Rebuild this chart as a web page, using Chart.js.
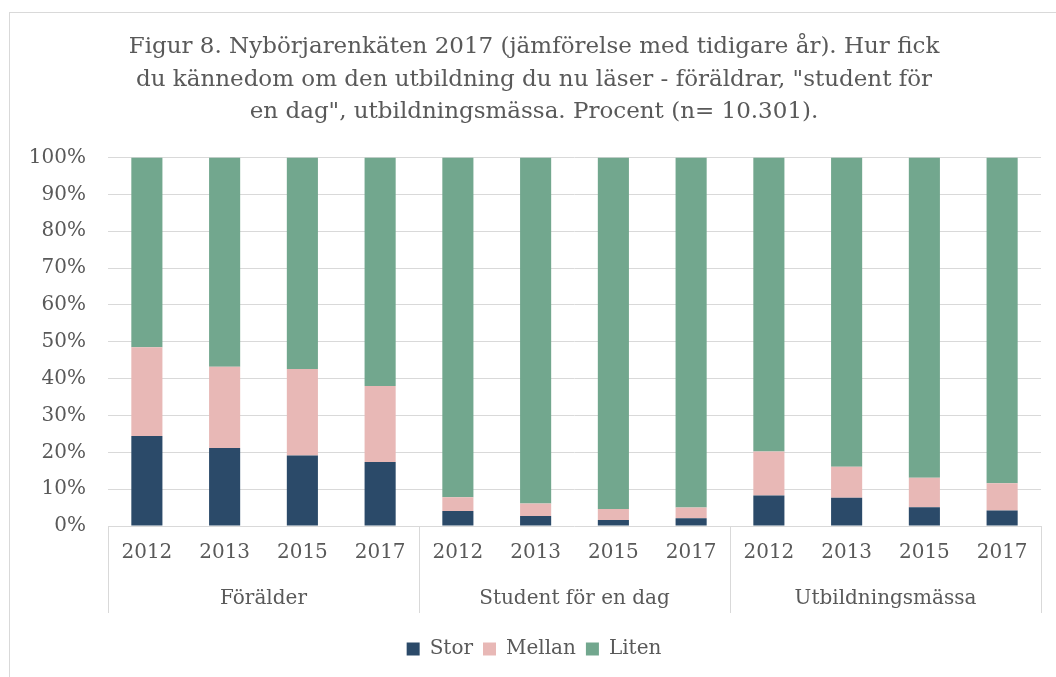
<!DOCTYPE html>
<html>
<head>
<meta charset="utf-8">
<script src="https://cdn.jsdelivr.net/npm/chart.js@4/dist/chart.umd.min.js"></script>
<style>
  html, body { margin: 0; padding: 0; background: #fff; }
  #frame { position: absolute; left: 9px; top: 12px; width: 1100px; height: 700px; border: 1px solid #d9d9d9; }
  #wrap { position: absolute; left: 0; top: 0; width: 1056px; height: 677px; }
</style>
</head>
<body>
<div id="frame"></div>
<div id="wrap"><canvas id="chart"></canvas></div>
<script>
// Nybörjarenkäten 2017 — stacked bars per group and year
const years = ['2012', '2013', '2015', '2017', '2012', '2013', '2015', '2017', '2012', '2013', '2015', '2017'];
const groups = ['Förälder', 'Student för en dag', 'Utbildningsmässa'];
const stor = [24.4, 21.2, 19.1, 17.4, 4.1, 2.7, 1.6, 2.1, 8.3, 7.7, 5.1, 4.2];
const mellan = [24.1, 22.0, 23.5, 20.6, 3.7, 3.4, 3.0, 2.9, 11.9, 8.4, 8.0, 7.4];
const liten = [51.5, 56.8, 57.4, 62.0, 92.2, 93.9, 95.4, 95.0, 79.8, 83.9, 86.9, 88.4];
const yTicks = [0, 10, 20, 30, 40, 50, 60, 70, 80, 90, 100];

const FONT = 'DejaVu Serif';
const TXT = '#595959';
const GRID = '#d9d9d9';

// group labels + separators under the year labels
const groupAxis = {
  id: 'groupAxis',
  afterDraw(chart) {
    const x = chart.scales.x;
    const ctx = chart.ctx;
    const per = years.length / groups.length;
    const half = (x.getPixelForValue(1) - x.getPixelForValue(0)) / 2;
    const top = x.top;
    const bottom = x.top + 87;
    ctx.save();
    ctx.strokeStyle = GRID;
    ctx.lineWidth = 1;
    for (let g = 0; g <= groups.length; g++) {
      const idx = Math.min(g * per, years.length - 1);
      const px = Math.round(g * per < years.length ? x.getPixelForValue(idx) - half : x.getPixelForValue(idx) + half) + 0.5;
      ctx.beginPath();
      ctx.moveTo(px, top);
      ctx.lineTo(px, bottom);
      ctx.stroke();
    }
    ctx.fillStyle = TXT;
    ctx.font = '20px "' + FONT + '"';
    ctx.textAlign = 'center';
    ctx.textBaseline = 'middle';
    groups.forEach((g, i) => {
      const a = x.getPixelForValue(i * per) - half;
      const b = x.getPixelForValue(i * per + per - 1) + half;
      ctx.fillText(g, (a + b) / 2, top + 73);
    });
    ctx.restore();
  }
};

new Chart(document.getElementById('chart'), {
  type: 'bar',
  data: {
    labels: years,
    datasets: [
      { label: 'Stor', data: stor, backgroundColor: '#2b4a69' },
      { label: 'Mellan', data: mellan, backgroundColor: '#e8b8b6' },
      { label: 'Liten', data: liten, backgroundColor: '#72a78e' },
    ],
  },
  options: {
    responsive: true,
    maintainAspectRatio: false,
    animation: false,
    layout: { padding: { left: 27, right: 15, top: 0, bottom: 8 } },
    datasets: { bar: { barPercentage: 0.8, categoryPercentage: 0.5 } },
    plugins: {
      title: {
        display: true,
        text: [
          'Figur 8. Nybörjarenkäten 2017 (jämförelse med tidigare år). Hur fick',
          'du kännedom om den utbildning du nu läser - föräldrar, "student för',
          'en dag", utbildningsmässa. Procent (n= 10.301).',
        ],
        color: TXT,
        font: { family: FONT, size: 23, weight: 'normal', lineHeight: 1.413 },
        padding: { top: 31, bottom: 29 },
      },
      legend: {
        position: 'bottom',
        labels: {
          color: TXT,
          font: { family: FONT, size: 20 },
          boxWidth: 13,
          boxHeight: 13,
          padding: 10,
        },
      },
      tooltip: { enabled: false },
    },
    scales: {
      x: {
        stacked: true,
        grid: { display: false, drawTicks: false },
        border: { display: false },
        ticks: { color: TXT, font: { family: FONT, size: 20 }, padding: 15, maxRotation: 0, autoSkip: false },
        afterFit: (s) => { s.height = 103; },
      },
      y: {
        stacked: true,
        min: 0,
        max: 100,
        afterBuildTicks: (s) => { s.ticks = yTicks.map((v) => ({ value: v })); },
        grid: { color: GRID, lineWidth: 1, drawTicks: false },
        border: { display: false },
        ticks: { color: TXT, font: { family: FONT, size: 20 }, padding: 22, callback: (v) => v + '%' },
        afterFit: (s) => { s.width = 81; },
      },
    },
  },
  plugins: [groupAxis],
});
</script>
</body>
</html>
